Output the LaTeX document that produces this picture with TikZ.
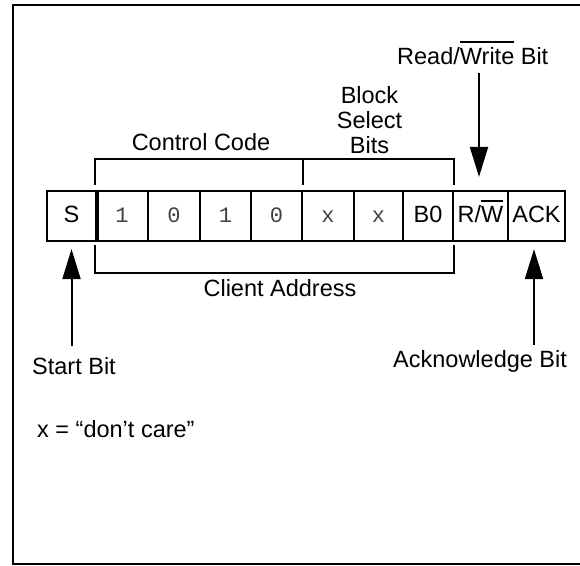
\documentclass[tikz,border=0pt]{standalone}
\usepackage{fontspec}
\setmainfont{Liberation Sans}
\newfontfamily\monof{Liberation Mono}
\usetikzlibrary{arrows.meta}
\newcommand\olbar[1]{\vbox{\hrule height 1.8pt\kern 5pt\hbox{#1}}}
\tikzset{
  bitbox/.style={draw, line width=2.2pt, minimum height=50pt, inner sep=0pt,
    text height=14pt, text depth=0pt, font=\fontsize{23.5}{28}\selectfont},
  monobox/.style={bitbox, font=\monof\fontsize{22}{26}\selectfont, text=black!75},
  lbl/.style={inner sep=0pt, font=\fontsize{23.5}{28}\selectfont},
  arr/.style={line width=2pt, -{Triangle[length=30pt,width=18pt]}},
  brk/.style={line width=2.2pt},
  frame/.style={line width=2pt}
}
\begin{document}
\begin{tikzpicture}[x=1pt,y=1pt]
\useasboundingbox (0,0) rectangle (580,565);
\draw[frame] (580,560) -- (13,560) -- (13,1) -- (580,1);
% bit boxes
\node[bitbox, minimum width=49pt] (s) at (71.5,349) {S};
\node[monobox, minimum width=52pt] (d1) at (122,349) {1};
\node[monobox, minimum width=52pt] (d2) at (174,349) {0};
\node[monobox, minimum width=51pt] (d3) at (225.5,349) {1};
\node[monobox, minimum width=51pt] (d4) at (276.5,349) {0};
\node[monobox, minimum width=52pt] (x1) at (328,349) {x};
\node[monobox, minimum width=49pt] (x2) at (378.5,349) {x};
\node[bitbox, minimum width=50pt] (b0) at (428,349) {B0};
\node[bitbox, minimum width=55pt] (rw) at (480.5,349) {R/\olbar{W}};
\node[bitbox, minimum width=57pt] (ack) at (536.5,349) {ACK};
\draw[line width=3.6pt] (s.north east) -- (s.south east);
% brackets
\draw[brk] ([yshift=5pt]d1.north west) |- ([yshift=31pt]b0.north east) -- ([yshift=5pt]b0.north east);
\draw[brk] ([yshift=5pt]d4.north east) -- ([yshift=31pt]d4.north east);
\draw[brk] ([yshift=-3pt]d1.south west) |- ([yshift=-31pt]b0.south east) -- ([yshift=-3pt]b0.south east);
% labels
\node[lbl, anchor=base] (cc) at (201,414) {Control Code};
\node[lbl, align=center, anchor=north, font=\fontsize{23.5}{25}\selectfont] (bsb) at (369.5,478.8) {Block\\Select\\Bits};
\node[lbl, anchor=base west] (rwl) at (397,500) {Read/\olbar{Write} Bit};
\node[lbl, anchor=base] (ca) at (280,268) {Client Address};
\node[lbl, anchor=base west] (sbl) at (32,191) {Start Bit};
\node[lbl, anchor=base west] (ackl) at (393,197) {Acknowledge Bit};
\node[lbl, anchor=base west] (dc) at (37,128) {x = “don’t care”};
% arrows
\coordinate (sbt) at (71.5,219);
\draw[arr] (sbt) -- ([yshift=-7pt]s.south);
\coordinate (rwt) at (479,492);
\draw[arr] (rwt) -- ([xshift=-1.5pt,yshift=13pt]rw.north);
\coordinate (ackt) at (534,220);
\draw[arr] (ackt) -- ([xshift=-2.5pt,yshift=-7pt]ack.south);
\end{tikzpicture}
\end{document}
